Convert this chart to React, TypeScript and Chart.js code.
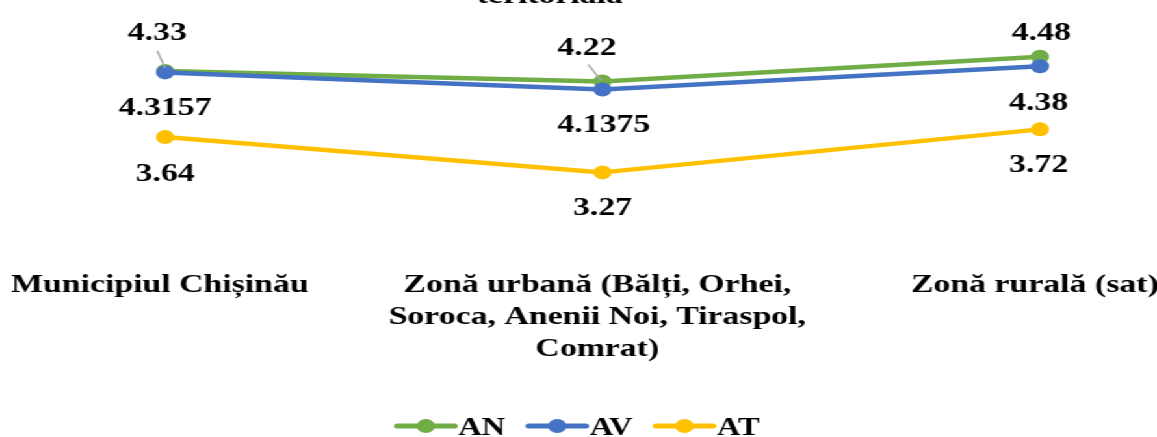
import React, { useEffect, useRef } from "react";
import { Chart, registerables } from "chart.js";

Chart.register(...registerables);

// ---- data ----
const categories: string[][] = [
  ["Municipiul Chișinău"],
  ["Zonă urbană (Bălți, Orhei,", "Soroca, Anenii Noi, Tiraspol,", "Comrat)"],
  ["Zonă rurală (sat)"],
];
const seriesNames = ["AN", "AV", "AT"];
const anValues = [4.33, 4.22, 4.48];
const avValues = [4.3157, 4.1375, 4.38];
const atValues = [3.64, 3.27, 3.72];
const titleTail = "teritorială";

// ---- styling ----
const GREEN = "#70AD47";
const BLUE = "#4472C4";
const YELLOW = "#FFC000";
const COLORS = [GREEN, BLUE, YELLOW];
const SERIF = "'Liberation Serif', 'Times New Roman', serif";
const STRETCH = 1.3;
const W = Math.round(1157 / STRETCH);
const H = 437;

// label offsets relative to each point (canvas units), per series / per point
const labelOffsets: number[][][] = [
  [[-6, -40], [-12, -36], [1, -26]],
  [[0, 34], [1, 34], [-1, 35]],
  [[0, 35], [0, 34], [-1, 34]],
];
// leader lines [series, point, fromDx, fromDy, toDx, toDy]
const leaders: number[][] = [
  [0, 0, -6, -20, 0, -3],
  [0, 1, -11, -17, -1, -1],
];

const overlay = {
  id: "overlay",
  afterDatasetsDraw(chart: any) {
    const ctx: CanvasRenderingContext2D = chart.ctx;
    const xs = chart.scales.x;
    const area = chart.chartArea;
    ctx.save();

    // leader lines
    ctx.strokeStyle = "#A6A6A6";
    ctx.lineWidth = 1.5;
    leaders.forEach(([di, i, fx, fy, tx, ty]) => {
      const pt = chart.getDatasetMeta(di).data[i];
      ctx.beginPath();
      ctx.moveTo(pt.x + fx, pt.y + fy);
      ctx.lineTo(pt.x + tx, pt.y + ty);
      ctx.stroke();
    });

    // value labels
    ctx.fillStyle = "#000";
    ctx.font = `bold 26px ${SERIF}`;
    ctx.textAlign = "center";
    ctx.textBaseline = "alphabetic";
    chart.data.datasets.forEach((ds: any, di: number) => {
      const meta = chart.getDatasetMeta(di);
      meta.data.forEach((pt: any, i: number) => {
        const [dx, dy] = labelOffsets[di][i];
        ctx.fillText(String(ds.data[i]), pt.x + dx, pt.y + dy + 9);
      });
    });

    // category labels
    categories.forEach((lines, i) => {
      const x = xs.getPixelForValue(i) - 4;
      lines.forEach((ln, j) => {
        ctx.fillText(ln, x, area.bottom + 46 + j * 32);
      });
    });

    // title fragment (cropped)
    ctx.font = `bold 26px ${SERIF}`;
    ctx.fillText(titleTail, 423, 3);

    // legend
    ctx.font = `bold 25px ${SERIF}`;
    ctx.textAlign = "left";
    const markerLen = 44;
    const gapText = 3;
    const gapItem = 18;
    const widths = seriesNames.map((n) => ctx.measureText(n).width);
    const total =
      widths.reduce((a, b) => a + b, 0) +
      seriesNames.length * (markerLen + gapText) +
      gapItem * (seriesNames.length - 1);
    let x = chart.width / 2 - total / 2;
    const my = chart.height - 11;
    seriesNames.forEach((n, i) => {
      ctx.strokeStyle = COLORS[i];
      ctx.lineWidth = 5;
      ctx.lineCap = "round";
      ctx.beginPath();
      ctx.moveTo(x, my);
      ctx.lineTo(x + markerLen, my);
      ctx.stroke();
      ctx.fillStyle = COLORS[i];
      ctx.beginPath();
      ctx.arc(x + markerLen / 2, my, 7, 0, Math.PI * 2);
      ctx.fill();
      ctx.fillStyle = "#000";
      ctx.fillText(n, x + markerLen + gapText, my + 9);
      x += markerLen + gapText + widths[i] + gapItem;
    });

    ctx.restore();
  },
};

export default function App() {
  const ref = useRef<HTMLCanvasElement>(null);
  useEffect(() => {
    const common = {
      borderWidth: 4.5,
      pointRadius: 7,
      pointHoverRadius: 7,
      pointBorderWidth: 0,
      borderCapStyle: "round" as const,
      borderJoinStyle: "round" as const,
      tension: 0,
      clip: false as const,
    };
    const values = [anValues, avValues, atValues];
    const chart = new Chart(ref.current!, {
      type: "line",
      data: {
        labels: categories.map((c) => c.join(" ")),
        datasets: seriesNames.map((name, i) => ({
          label: name,
          data: values[i],
          borderColor: COLORS[i],
          backgroundColor: COLORS[i],
          pointBackgroundColor: COLORS[i],
          pointBorderColor: COLORS[i],
          order: 3 - i,
          ...common,
        })),
      },
      options: {
        animation: false,
        responsive: true,
        maintainAspectRatio: false,
        layout: { padding: { left: 127, right: W - 800, top: 4, bottom: 191 } },
        scales: {
          x: { display: false, offset: false },
          y: { display: false, min: 2.5, max: 5 },
        },
        plugins: { legend: { display: false }, tooltip: { enabled: false } },
      },
      plugins: [overlay],
    });
    return () => chart.destroy();
  }, []);
  return (
    <div
      style={{
        position: "fixed",
        left: 0,
        top: 0,
        width: W,
        height: H,
        transform: `scaleX(${1157 / W})`,
        transformOrigin: "0 0",
        background: "#fff",
      }}
    >
      <canvas ref={ref} />
    </div>
  );
}
